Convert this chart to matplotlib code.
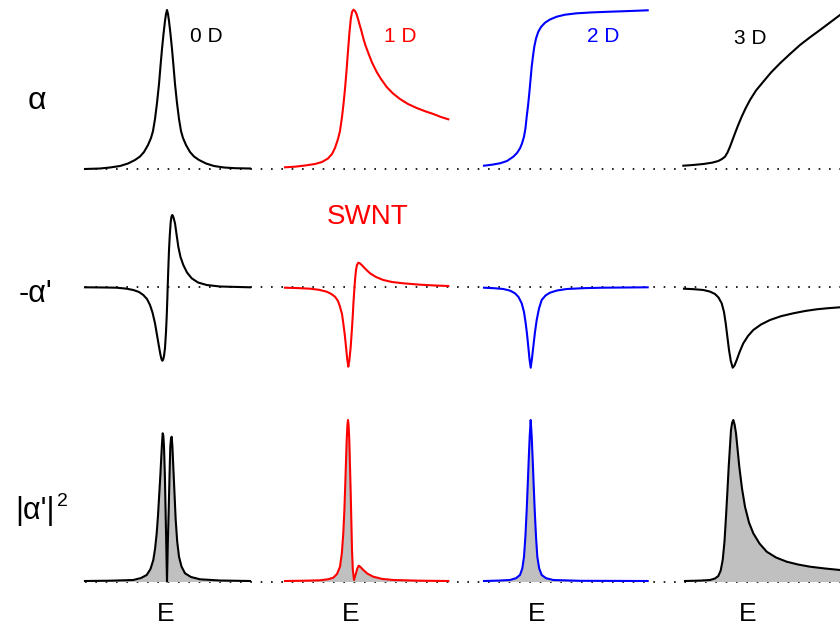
import matplotlib
matplotlib.use("Agg")
import matplotlib.pyplot as plt

plt.rcParams['font.family'] = ['Liberation Sans', 'DejaVu Sans']

# energy axis (arbitrary units) and amplitudes above the dotted baseline
# row 1: alpha
e_a0 = [85, 100, 110, 120, 128, 135, 140, 144, 148, 151, 153, 155, 157, 159, 160.5, 162, 163.5, 165, 166, 167,
        168, 169, 170.5, 172, 173.5, 175, 177, 179, 181, 183, 186, 190, 194, 199, 206, 214, 224, 235, 250]
a_a0 = [0, 0.5, 1.5, 3, 5.5, 9, 12.5, 17, 24, 31, 38, 50, 66, 85, 103, 120, 135, 148, 155, 159,
        155, 148, 135, 120, 103, 85, 66, 50, 38, 31, 24, 17, 12.5, 9, 5.5, 3, 1.5, 0.8, 0.5]
e_a1 = [285, 295, 305, 315, 322, 328, 332, 335, 338, 340, 342, 343.5, 345, 346.5, 348, 349.5, 350.8, 352, 353.5,
        355, 356.5, 358, 360, 361.7, 363.5, 365.5, 368.3, 372, 376.7, 381, 386.7, 393, 400, 408, 416.7, 425, 433.3, 441, 448.3]
a_a1 = [1.7, 2.3, 3.5, 5, 7, 10.5, 15, 21, 30, 38, 52, 65, 80, 98, 118, 137, 150, 157, 159.3,
        158, 155, 150, 143, 137, 130, 123.5, 116, 106.5, 97, 90, 82, 75.5, 70, 65, 61, 57.8, 55, 52, 49.7]
e_a2 = [484, 492, 500, 507, 513.3, 517, 520, 522, 524, 525.5, 526.7, 528, 529.3, 530.5, 531.7, 533, 534.3, 536,
        538.3, 541, 545, 550, 556.7, 565, 576.7, 592, 610, 630, 647.7]
a_a2 = [3.3, 4.3, 5.7, 8, 12.3, 16, 20.7, 25.5, 32.3, 41, 52.3, 63, 75.7, 89, 102.3, 113, 122.3, 130.5,
        137.3, 142, 146.3, 149.5, 152.3, 154.3, 155.7, 156.6, 157.3, 158, 158.7]
e_a3 = [683.3, 693, 703.3, 712, 718.3, 722, 725, 727.5, 730, 732.5, 735, 738, 741.7, 745.5, 750, 756, 763.3,
        771, 780, 790, 800, 810, 820, 830, 840]
a_a3 = [3.3, 4, 5, 6.3, 8, 10, 12.3, 16.5, 22.3, 29, 35.7, 43.5, 52.3, 60.5, 69, 78.5, 87.3,
        96.5, 105.7, 115, 124, 131.7, 139, 146.5, 154]

# row 2: -alpha'
e_d0 = [85, 105, 116.7, 126, 133.3, 139, 143.3, 147, 150, 152.5, 155, 157, 159, 160.5, 161.5, 162.3, 163.2, 164,
        165, 166, 166.7, 167.3, 167.7, 168.3, 169, 169.8, 170.7, 171.5, 172.3, 173.2, 174, 175, 176.5, 178.3,
        180.5, 183.3, 187, 191.7, 198, 206.7, 220, 250]
a_d0 = [-0.3, -0.5, -0.7, -1.6, -3, -5, -8, -12, -18, -25.5, -36.3, -48, -59.7, -68, -72, -73.7, -72.5, -69,
        -61, -45, -29.7, -13, 0.3, 18, 37, 52, 65, 70.5, 72, 70.5, 67.5, 63.7, 53, 40.3,
        30, 22, 14.5, 8.7, 4.5, 2, 0.5, -0.3]
e_d1 = [285, 298, 310, 319, 326.7, 331, 335, 338, 340, 342, 343.3, 344.8, 346, 347.2, 348.3, 349.4, 350.7, 351.8,
        352.7, 353.5, 354.3, 355.1, 356, 357, 358.3, 359.8, 361.7, 365, 370, 376, 383.3, 392, 403.3, 420, 435, 448.3]
a_d1 = [-0.7, -1.1, -1.7, -2.8, -4.7, -6.8, -9.7, -14, -19.7, -27, -36.3, -48, -59.7, -72, -79.7, -73, -59.7, -44,
        -29.7, -15, -3, 8, 17, 22, 24.3, 23.7, 22, 18.5, 13.7, 10, 7, 5, 3.7, 2.3, 1.5, 1]
e_d2 = [484, 494, 503.3, 510, 515, 518.5, 521.7, 524, 525.7, 527, 528.3, 529.5, 530.7, 531.9, 533.3, 535,
        536.7, 539, 541.7, 545.5, 550, 557, 566.7, 585, 603.3, 647.7]
a_d2 = [-0.7, -1.2, -2, -3.6, -6.3, -10, -16.3, -25, -36.3, -47, -59.7, -72, -80.7, -72, -59.7, -45,
        -33, -21.5, -13, -8.5, -5.7, -3.5, -2, -1.1, -0.7, -0.3]
e_d3 = [684, 694, 703.3, 710, 715, 718.5, 721.7, 724, 725.7, 727.4, 729, 730.8, 732.7, 734.5, 736.7, 739.8,
        743.3, 748, 753.3, 761, 770, 781, 793.3, 805, 816.7, 828, 840]
a_d3 = [-1.7, -2.2, -3, -4.6, -7, -10.5, -16.3, -25, -36.3, -50, -63, -74, -80.7, -78.5, -73, -64.5,
        -56.3, -49, -43, -37.5, -33, -29.2, -26.3, -24, -22.3, -21.2, -20.3]

# row 3: |alpha'|^2
e_s0 = [85, 110, 133.3, 141, 146.7, 150.5, 153.3, 155.1, 156.7, 158, 159.3, 160.4, 161.3, 162, 162.7, 163.3, 164,
        164.9, 165.7, 166.4, 167, 167.8, 168.7, 169.5, 170.3, 171, 171.7, 172.4, 173.3, 174.5, 175.7, 177.2,
        179, 181.5, 185, 191, 200, 220, 250]
a_s0 = [0.5, 0.8, 1.5, 3.5, 6.5, 12.5, 21.5, 33, 48.2, 66, 88.2, 107, 124.8, 138, 148.2, 146, 134.8,
        105, 64.8, 30, 0, 38, 71.5, 105, 134.8, 143, 144.8, 135, 114.8, 88, 61.5, 40,
        24.8, 15, 8.2, 4.5, 2.2, 1, 0.5]
e_s1 = [285, 305, 320, 328, 333.3, 337, 340, 341.8, 343.3, 344.4, 345.3, 346, 346.7, 347.4, 348, 348.6, 349.3,
        350, 350.7, 351.4, 352, 352.8, 354, 355, 356, 357.3, 358.7, 360.5, 363.3, 367.5, 373.3, 382, 393.3, 420, 448.3]
a_s1 = [0.5, 0.8, 1.2, 2.2, 3.8, 7.5, 14.8, 28, 48.2, 72, 98.2, 120, 141.5, 156, 161.5, 156, 141.5,
        115, 88.2, 58, 31.5, 12, 1.5, 5, 8.2, 13, 15.8, 14.5, 11.5, 7.8, 4.8, 2.6, 1.5, 0.8, 0.5]
e_s2 = [484, 498, 510, 516, 520, 522.3, 524, 525.4, 526.7, 527.7, 528.7, 529.7, 530.7, 531.7, 532.7, 533.7,
        534.7, 536, 537.3, 539.2, 541.7, 546, 553.3, 580, 647.7]
a_s2 = [0.5, 0.9, 1.5, 3.3, 6.5, 13, 24.8, 45, 71.5, 96, 121.5, 145, 161.5, 145, 121.5, 96,
        71.5, 45, 24.8, 13, 6.5, 3.3, 1.5, 0.7, 0.5]
e_s3 = [685, 700, 710, 715, 718.3, 720.7, 722.7, 724.5, 726, 727.4, 728.7, 729.9, 731, 732.2, 733.3, 734.6, 736,
        737.6, 739.3, 742, 745, 749, 753.3, 759.5, 766.7, 776, 786.7, 798, 810, 825, 840]
a_s3 = [0.5, 0.9, 1.5, 3, 5.5, 11, 21.5, 40, 64.8, 90, 114.8, 134, 151.5, 159, 161.5, 157, 148.2,
        132, 114.8, 93, 74.8, 59, 48.2, 38, 29.8, 24, 19.8, 17, 14.8, 13, 11.5]

colors = ['black', 'red', 'blue', 'black']
dim_labels = ['0 D', '1 D', '2 D', '3 D']
row_labels = ['α', "-α'", "|α'|"]

W, H = 840, 630
fig = plt.figure(figsize=(8.4, 6.3), dpi=100)

# each row: (top px, bottom px, baseline px)
rows = [(0, 200, 169), (190, 390, 287), (400, 630, 581.5)]
data = [
    [(e_a0, a_a0), (e_a1, a_a1), (e_a2, a_a2), (e_a3, a_a3)],
    [(e_d0, a_d0), (e_d1, a_d1), (e_d2, a_d2), (e_d3, a_d3)],
    [(e_s0, a_s0), (e_s1, a_s1), (e_s2, a_s2), (e_s3, a_s3)],
]

for r, (top, bot, base) in enumerate(rows):
    ax = fig.add_axes([0, 1 - bot / H, 1, (bot - top) / H])
    ax.set_xlim(0, W)
    ax.set_ylim(-(bot - base), base - top)
    ax.axis('off')
    ax.plot([85, 840], [0, 0], color='black', lw=1.2, linestyle=(0, (1, 5.2)), zorder=1)
    for c, (e, a) in enumerate(data[r]):
        if r == 2:
            ax.fill_between(e, 0, a, color='#c0c0c0', lw=0, zorder=2)
        ax.plot(e, a, color=colors[c], lw=1.5, zorder=3, solid_joinstyle='round')

def fx(px):
    return px / W

def fy(py):
    return 1 - py / H

# row labels
fig.text(fx(37), fy(101), row_labels[0], fontsize=23, ha='center', va='center')
fig.text(fx(36), fy(294), row_labels[1], fontsize=22, ha='center', va='center')
fig.text(fx(35), fy(511), row_labels[2], fontsize=22, ha='center', va='center')
fig.text(fx(62), fy(502), '2', fontsize=14, ha='center', va='center')

# dimension labels
for (px, py), lab, col in zip([(206, 37), (400, 37), (603, 37), (750, 39)], dim_labels, colors):
    fig.text(fx(px), fy(py), lab, fontsize=15, color=col, ha='center', va='center')

fig.text(fx(368), fy(217), 'SWNT', fontsize=20, color='red', ha='center', va='center')

for px in [166, 351, 537, 748]:
    fig.text(fx(px), fy(614), 'E', fontsize=19, ha='center', va='center')

fig.savefig('out.png', dpi=100)
